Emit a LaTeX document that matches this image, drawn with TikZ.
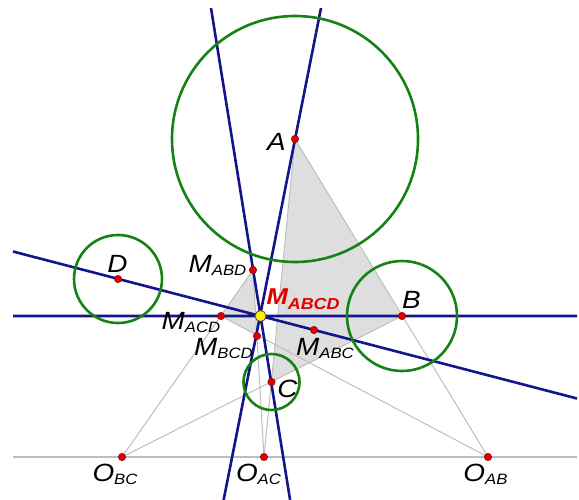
\documentclass[tikz,border=0pt]{standalone}
\usepackage{fontspec}
\setsansfont{Liberation Sans}[FakeStretch=1.12]
\usepackage{tikz}
\usetikzlibrary{calc}
\definecolor{mgblue}{RGB}{20,20,140}
\definecolor{mggreen}{RGB}{20,130,20}
\definecolor{mgline}{RGB}{190,190,190}
\definecolor{mgshade}{RGB}{222,222,222}
\definecolor{mgred}{RGB}{225,0,0}
\newcommand{\lbl}[2]{#1\raisebox{-3bp}{\fontsize{15}{15}\selectfont #2}}

\begin{document}
\begin{tikzpicture}[x=1bp,y=-1bp,
  pt/.style={circle,fill=mgred,draw=mgred!55!black,inner sep=0pt,minimum size=7.5bp},
  lab/.style={font=\fontsize{25}{25}\selectfont\sffamily\itshape,inner sep=0pt}]
\useasboundingbox (0,0) rectangle (579,500);
% centres of the spheres and the M points
\coordinate (A) at (295,139);
\coordinate (B) at (402,316);
\coordinate (C) at (271.5,382);
\coordinate (D) at (118,279);
\coordinate (M) at (260.5,316);
\coordinate (MABD) at (253,270);
\coordinate (MACD) at (221,316);
\coordinate (MBCD) at (257,336);
\coordinate (MABC) at (314,330);
\coordinate (OBC) at (122,457);
\coordinate (OAC) at (264,457);
\coordinate (OAB) at (488,457);
% shaded faces
\fill[mgshade] (A) -- (B) -- (C) -- cycle;
\fill[mgshade] (MABD) -- (MACD) -- (MBCD) -- cycle;
% trace line and gray lines
\coordinate (hl) at (13,457);
\coordinate (hr) at (577,457);
\draw[mgline, line width=1.6bp] (hl) -- (hr);
\draw[mgline, line width=1bp] (OAB) -- (A) (OAC) -- (A) (OBC) -- (B);
\draw[mgline, line width=1bp] (OBC) -- (MABD) (OAC) -- (MABD) (OAB) -- (MACD);
% lines through M_ABCD
\coordinate (tA) at (321,8);
\coordinate (bA) at (223.6,500);
\coordinate (tC) at (211,8);
\coordinate (bC) at (290.1,500);
\coordinate (lD) at (13,251.5);
\coordinate (rD) at (577,398.5);
\coordinate (lB) at (13,316);
\coordinate (rB) at (577,316);
\draw[mgblue, line width=2.6bp] (tA) -- (bA) (tC) -- (bC) (lD) -- (rD) (lB) -- (rB);
% spheres
\draw[mggreen, line width=2.6bp] (A) circle[radius=123];
\draw[mggreen, line width=2.6bp] (B) circle[radius=55];
\draw[mggreen, line width=2.6bp] (C) circle[radius=28];
\draw[mggreen, line width=2.6bp] (D) circle[radius=44];
% points
\foreach \p in {A,B,C,D,MABD,MACD,MBCD,MABC,OBC,OAC,OAB}
  \node[pt] at (\p) {};
\node[circle, fill=yellow, draw=black!70, line width=0.8bp, inner sep=0pt, minimum size=11bp] (Mdot) at (M) {};
% labels
\node[lab] (lA) at (276.5,141.5) {A};
\node[lab] (lB) at (411.5,300) {B};
\node[lab] (lC) at (287.5,388.5) {C};
\node[lab] (lD) at (117.5,263.5) {D};
\node[lab] (lMABD) at (217.5,265) {\lbl{M}{ABD}};
\node[lab] (lMACD) at (191,323) {\lbl{M}{ACD}};
\node[lab] (lMBCD) at (223.5,349) {\lbl{M}{BCD}};
\node[lab] (lMABC) at (325,349) {\lbl{M}{ABC}};
\node[lab] (lOBC) at (115,474) {\lbl{O}{BC}};
\node[lab] (lOAC) at (258.5,474) {\lbl{O}{AC}};
\node[lab] (lOAB) at (485.5,474) {\lbl{O}{AB}};
\node[lab, font=\fontsize{23}{23}\selectfont\sffamily\bfseries\itshape, text=mgred] (lM) at (303,299.5) {M\raisebox{-5bp}{\fontsize{16}{16}\selectfont ABCD}};
\end{tikzpicture}
\end{document}
